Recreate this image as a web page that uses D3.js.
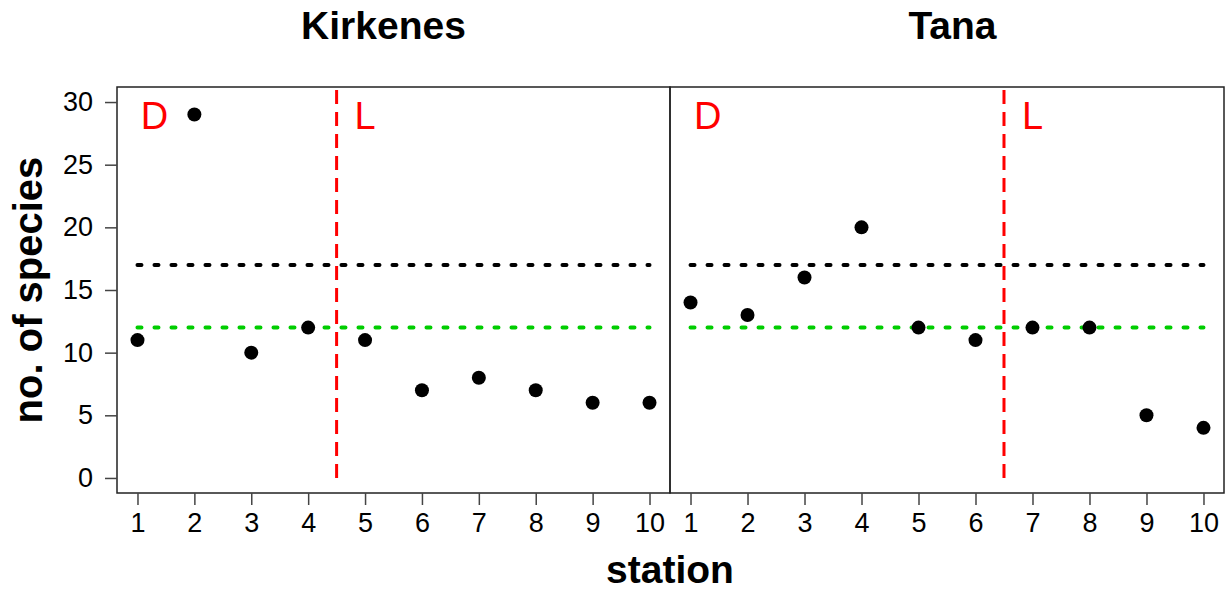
<!DOCTYPE html>
<html>
<head>
<meta charset="utf-8">
<script src="https://cdn.jsdelivr.net/npm/d3@7"></script>
<style>
  html, body { margin: 0; padding: 0; background: #fff; }
  svg text { font-family: "Liberation Sans", Arial, sans-serif; }
</style>
</head>
<body>
<svg id="chart" width="1231" height="590"></svg>
<script>
// Species counts per station at two sites
const stations = [1, 2, 3, 4, 5, 6, 7, 8, 9, 10];
const kirkenes = [11, 29, 10, 12, 11, 7, 8, 7, 6, 6];
const tana = [14, 13, 16, 20, 12, 11, 12, 12, 5, 4];
const siteNames = ["Kirkenes", "Tana"];
const blackRef = [17, 17];   // dotted black reference level per site
const greenRef = [12, 12];   // dotted green reference level per site
const dlBoundary = [4.5, 6.5]; // D / L split per site
const yTicks = [0, 5, 10, 15, 20, 25, 30];

const panels = [
  { name: siteNames[0], values: kirkenes, black: blackRef[0], green: greenRef[0], split: dlBoundary[0], x0: 117, x1: 670, titleX: 383.5 },
  { name: siteNames[1], values: tana, black: blackRef[1], green: greenRef[1], split: dlBoundary[1], x0: 670, x1: 1224, titleX: 952.5 }
];

const svg = d3.select("#chart");
const plotTop = 87, plotBottom = 493;

// R-style 4% padding on both axes
const y = d3.scaleLinear().domain([-1.2, 31.2]).range([plotBottom, plotTop]);

panels.forEach((p, i) => {
  const x = d3.scaleLinear().domain([0.64, 10.36]).range([p.x0, p.x1]);
  const g = svg.append("g");

  // reference lines
  g.append("line")
    .attr("x1", x(1)).attr("x2", x(10))
    .attr("y1", y(p.black)).attr("y2", y(p.black))
    .attr("stroke", "#000").attr("stroke-width", 4)
    .attr("stroke-linecap", "round").attr("stroke-dasharray", "4,13");
  g.append("line")
    .attr("x1", x(1)).attr("x2", x(10))
    .attr("y1", y(p.green)).attr("y2", y(p.green))
    .attr("stroke", "#00CD00").attr("stroke-width", 4)
    .attr("stroke-linecap", "round").attr("stroke-dasharray", "4,13");

  // D / L split
  g.append("line")
    .attr("x1", x(p.split)).attr("x2", x(p.split))
    .attr("y1", y(0)).attr("y2", plotTop)
    .attr("stroke", "#FF0000").attr("stroke-width", 3)
    .attr("stroke-dasharray", "14,8");

  g.append("text")
    .attr("x", x(1.3)).attr("y", y(29) + 14)
    .attr("text-anchor", "middle")
    .attr("font-size", 38).attr("fill", "#FF0000")
    .text("D");
  g.append("text")
    .attr("x", x(p.split + 0.5)).attr("y", y(29) + 14)
    .attr("text-anchor", "middle")
    .attr("font-size", 38).attr("fill", "#FF0000")
    .text("L");

  // points
  g.selectAll("circle")
    .data(stations.map((s, k) => ({ s, v: p.values[k] })))
    .join("circle")
    .attr("cx", d => x(d.s)).attr("cy", d => y(d.v))
    .attr("r", 7).attr("fill", "#000");

  // frame
  g.append("rect")
    .attr("x", p.x0).attr("y", plotTop)
    .attr("width", p.x1 - p.x0).attr("height", plotBottom - plotTop)
    .attr("fill", "none").attr("stroke", "#222").attr("stroke-width", 1.5);

  // x axis
  const xAxis = d3.axisBottom(x).tickValues(stations).tickSize(12).tickPadding(8).tickFormat(d3.format("d"));
  const xa = g.append("g").attr("transform", `translate(0,${plotBottom})`).call(xAxis);
  xa.select(".domain").remove();
  xa.selectAll(".tick line").attr("stroke", "#444").attr("stroke-width", 1.5);
  xa.selectAll(".tick text").attr("font-size", 27).attr("fill", "#000")
    .attr("font-family", "Liberation Sans, Arial, sans-serif");

  // title
  svg.append("text")
    .attr("x", p.titleX).attr("y", 39)
    .attr("text-anchor", "middle")
    .attr("font-size", 39).attr("font-weight", "bold")
    .text(p.name);

  if (i === 0) {
    const yAxis = d3.axisLeft(y).tickValues(yTicks).tickSize(12).tickPadding(12);
    const ya = g.append("g").attr("transform", `translate(${p.x0},0)`).call(yAxis);
    ya.select(".domain").remove();
    ya.selectAll(".tick line").attr("stroke", "#444").attr("stroke-width", 1.5);
    ya.selectAll(".tick text").attr("font-size", 27).attr("fill", "#000")
      .attr("font-family", "Liberation Sans, Arial, sans-serif");
  }
});

// axis titles
svg.append("text")
  .attr("x", 670).attr("y", 583)
  .attr("text-anchor", "middle")
  .attr("font-size", 39).attr("font-weight", "bold")
  .text("station");

svg.append("text")
  .attr("transform", "translate(42,290) rotate(-90)")
  .attr("text-anchor", "middle")
  .attr("font-size", 40).attr("font-weight", "bold")
  .text("no. of species");
</script>
</body>
</html>
